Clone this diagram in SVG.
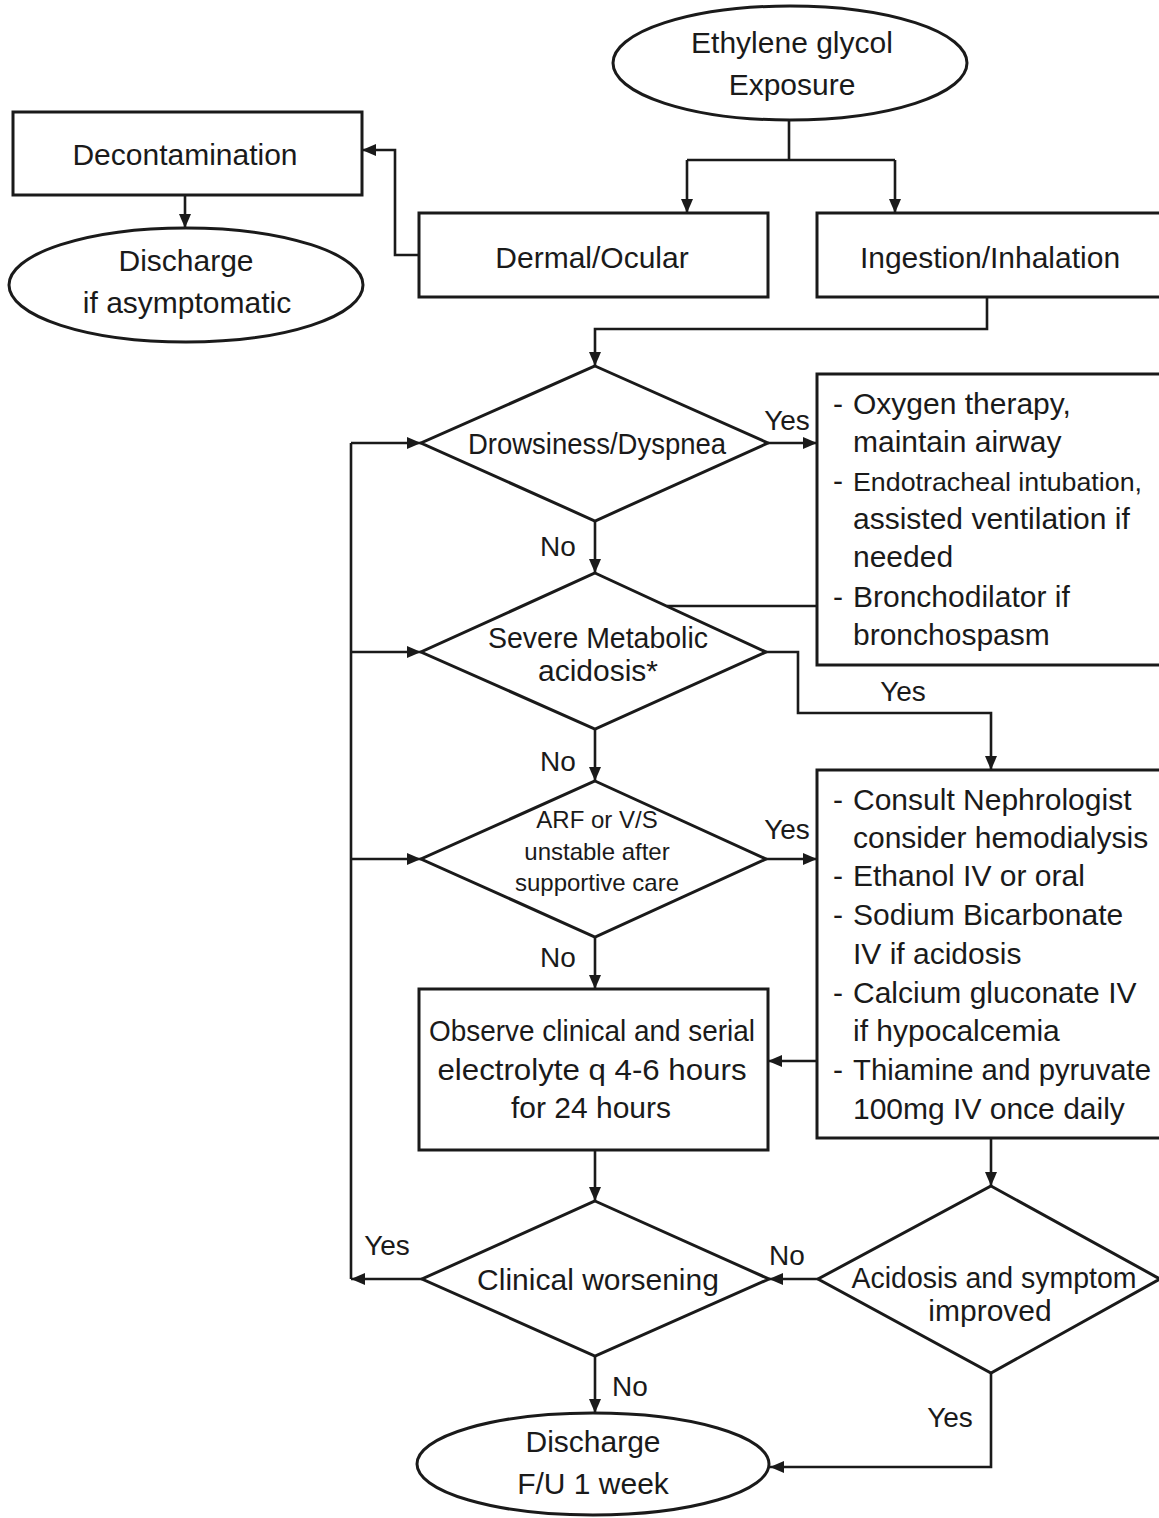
<svg xmlns="http://www.w3.org/2000/svg" width="1159" height="1518" viewBox="0 0 1159 1518">
<defs>
<marker id="arr" viewBox="0 0 14 12" refX="14" refY="6" markerWidth="14" markerHeight="12" markerUnits="userSpaceOnUse" orient="auto">
<path d="M0,0 L14,6 L0,12 Z" fill="#1a1a1a"/>
</marker>
<style>
.shape{fill:#fff;stroke:#1a1a1a;stroke-width:3}
.t{font-family:"Liberation Sans","Open Sans",sans-serif;font-size:30px;fill:#1a1a1a;text-anchor:middle}
.l{font-family:"Liberation Sans","Open Sans",sans-serif;font-size:30px;fill:#1a1a1a;text-anchor:start}
.lb{font-size:28px}
.s{font-size:24px}
.c{fill:none;stroke:#1a1a1a;stroke-width:2.6}
.ca{fill:none;stroke:#1a1a1a;stroke-width:2.6;marker-end:url(#arr)}
</style>
</defs>
<rect width="1159" height="1518" fill="#fff"/>

<g id="connectors">
<path class="c" d="M789,120 V160 M687,160 H895"/>
<path class="ca" d="M687,160 V213"/>
<path class="ca" d="M895,160 V213"/>
<path class="ca" d="M185,195 V228"/>
<path class="ca" d="M419,255 H395 V150 H362"/>
<path class="ca" d="M987,297 V329 H595 V366"/>
<path class="ca" d="M768,443 H817"/>
<path class="ca" d="M595,521 V573"/>
<path class="c" d="M817,606 H667"/>
<path class="ca" d="M766,652 H798 V713 H991 V770"/>
<path class="ca" d="M595,729 V781"/>
<path class="ca" d="M766,859 H817"/>
<path class="ca" d="M595,937 V989"/>
<path class="ca" d="M817,1061 H768"/>
<path class="ca" d="M595,1150 V1201"/>
<path class="ca" d="M991,1138 V1186"/>
<path class="ca" d="M818,1279 H769"/>
<path class="ca" d="M422,1279 H351"/>
<path class="c" d="M351,1279 V443"/>
<path class="ca" d="M351,443 H421"/>
<path class="ca" d="M351,652 H421"/>
<path class="ca" d="M351,859 H421"/>
<path class="ca" d="M595,1356 V1413"/>
<path class="ca" d="M991,1373 V1467 H770"/>
<text class="t lb" x="787" y="430">Yes</text>
<text class="t lb" x="558" y="556">No</text>
<text class="t lb" x="903" y="701">Yes</text>
<text class="t lb" x="558" y="771">No</text>
<text class="t lb" x="787" y="839">Yes</text>
<text class="t lb" x="558" y="967">No</text>
<text class="t lb" x="387" y="1255">Yes</text>
<text class="t lb" x="787" y="1265">No</text>
<text class="t lb" x="630" y="1396">No</text>
<text class="t lb" x="950" y="1427">Yes</text>
</g>

<g id="start">
<ellipse class="shape" cx="790" cy="63" rx="177" ry="57"/>
<text class="t" x="792" y="53">Ethylene glycol</text>
<text class="t" x="792" y="95">Exposure</text>
</g>

<g id="decontamination">
<rect class="shape" x="13" y="112" width="349" height="83"/>
<text class="t" x="185" y="165">Decontamination</text>
</g>

<g id="discharge-asymptomatic">
<ellipse class="shape" cx="186" cy="285" rx="177" ry="57"/>
<text class="t" x="186" y="271">Discharge</text>
<text class="t" x="187" y="313">if asymptomatic</text>
</g>

<g id="dermal">
<rect class="shape" x="419" y="213" width="349" height="84"/>
<text class="t" x="592" y="268">Dermal/Ocular</text>
</g>

<g id="ingestion">
<rect class="shape" x="817" y="213" width="345" height="84"/>
<text class="t" x="990" y="268">Ingestion/Inhalation</text>
</g>

<g id="drowsiness">
<polygon class="shape" points="595,366 768,443 595,521 421,443"/>
<text class="t" x="597" y="454" textLength="258" lengthAdjust="spacingAndGlyphs">Drowsiness/Dyspnea</text>
</g>

<g id="airway-box">
<rect class="shape" x="817" y="374" width="345" height="291"/>
<text class="l"><tspan x="833" y="414">-</tspan><tspan x="853">Oxygen therapy,</tspan></text>
<text class="l" x="853" y="452">maintain airway</text>
<text class="l"><tspan x="833" y="491">-</tspan><tspan x="853" style="font-size:26px" textLength="289" lengthAdjust="spacingAndGlyphs">Endotracheal intubation,</tspan></text>
<text class="l" x="853" y="529">assisted ventilation if</text>
<text class="l" x="853" y="567">needed</text>
<text class="l"><tspan x="833" y="607">-</tspan><tspan x="853">Bronchodilator if</tspan></text>
<text class="l" x="853" y="645">bronchospasm</text>
</g>

<g id="metabolic">
<polygon class="shape" points="595,573 766,652 595,729 421,652"/>
<text class="t" x="598" y="648" textLength="220" lengthAdjust="spacingAndGlyphs">Severe Metabolic</text>
<text class="t" x="598" y="681">acidosis*</text>
</g>

<g id="arf">
<polygon class="shape" points="595,781 766,859 595,937 421,859"/>
<text class="t s" x="597" y="828">ARF or V/S</text>
<text class="t s" x="597" y="860">unstable after</text>
<text class="t s" x="597" y="891">supportive care</text>
</g>

<g id="treatment-box">
<rect class="shape" x="817" y="770" width="345" height="368"/>
<text class="l"><tspan x="833" y="810">-</tspan><tspan x="853">Consult Nephrologist</tspan></text>
<text class="l" x="853" y="848">consider hemodialysis</text>
<text class="l"><tspan x="833" y="886">-</tspan><tspan x="853">Ethanol IV or oral</tspan></text>
<text class="l"><tspan x="833" y="925">-</tspan><tspan x="853">Sodium Bicarbonate</tspan></text>
<text class="l" x="853" y="964">IV if acidosis</text>
<text class="l"><tspan x="833" y="1003">-</tspan><tspan x="853">Calcium gluconate IV</tspan></text>
<text class="l" x="853" y="1041">if hypocalcemia</text>
<text class="l"><tspan x="833" y="1080">-</tspan><tspan x="853" style="font-size:29px" textLength="298" lengthAdjust="spacingAndGlyphs">Thiamine and pyruvate</tspan></text>
<text class="l" x="853" y="1119">100mg IV once daily</text>
</g>

<g id="observe">
<rect class="shape" x="419" y="989" width="349" height="161"/>
<text class="t" x="592" y="1041" textLength="326" lengthAdjust="spacingAndGlyphs">Observe clinical and serial</text>
<text class="t" x="592" y="1080" textLength="309" lengthAdjust="spacingAndGlyphs">electrolyte q 4-6 hours</text>
<text class="t" x="591" y="1118">for 24 hours</text>
</g>

<g id="worsening">
<polygon class="shape" points="595,1201 769,1279 595,1356 422,1279"/>
<text class="t" x="598" y="1290">Clinical worsening</text>
</g>

<g id="improved">
<polygon class="shape" points="991,1186 1160,1279 991,1373 818,1279"/>
<text class="t" x="994" y="1288" textLength="285" lengthAdjust="spacingAndGlyphs">Acidosis and symptom</text>
<text class="t" x="990" y="1321">improved</text>
</g>

<g id="discharge-final">
<ellipse class="shape" cx="593" cy="1464" rx="176" ry="51"/>
<text class="t" x="593" y="1452">Discharge</text>
<text class="t" x="593" y="1494">F/U 1 week</text>
</g>
</svg>
